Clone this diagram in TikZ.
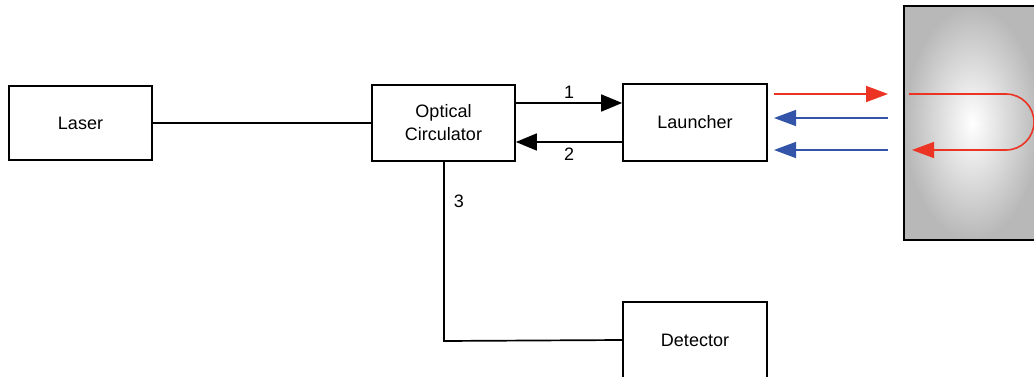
\documentclass[tikz,border=0pt]{standalone}
\usepackage{fontspec}
\setmainfont{Liberation Sans}
\usetikzlibrary{arrows.meta}
\definecolor{beamred}{RGB}{236,52,36}
\definecolor{beamblue}{RGB}{52,84,170}
\tikzset{
  blk/.style={draw=black, line width=1.7pt, fill=white, inner sep=0pt, font=\fontsize{18}{23}\selectfont, align=center},
  wire/.style={line width=1.7pt, black},
  bigtip/.style={-{Triangle[length=21pt,width=17pt]}},
  rtip/.style={line width=1.6pt, beamred, -{Triangle[length=22pt,width=16pt]}},
  btip/.style={line width=1.6pt, beamblue, -{Triangle[length=22pt,width=16pt]}},
  lbl/.style={font=\fontsize{18}{20}\selectfont, inner sep=0pt}
}
\begin{document}
\begin{tikzpicture}[x=1pt,y=-1pt]
\useasboundingbox (0,0) rectangle (1034,377);
\clip (0,0) rectangle (1034,377);
% target block
\shade[inner color=white, outer color=black!28] (904,6) rectangle (1040,240);
\draw[line width=1.7pt] (1040,6) -- (904,6) -- (904,240) -- (1040,240);
% blocks
\node[blk, minimum width=143pt, minimum height=74pt] (laser) at (80.5,123) {Laser};
\node[blk, minimum width=143pt, minimum height=76pt] (circ) at (443.5,123) {Optical\\Circulator};
\node[blk, minimum width=144pt, minimum height=77pt] (launch) at (695,122.5) {Launcher};
\node[blk, minimum width=144pt, minimum height=78pt, anchor=north] (det) at (695,301) {Detector};
% connectors
\draw[wire] (laser.east |- 0,123) -- (circ.west |- 0,123);
\draw[wire, bigtip] (circ.east |- 0,103) -- node[lbl, above=4pt] (n1) {1} (launch.west |- 0,103);
\draw[wire, bigtip] (launch.west |- 0,142) -- node[lbl, below=5pt] (n2) {2} (circ.east |- 0,142);
\coordinate (bend) at (444,341);
\draw[wire] (circ.south -| 444,0) -- (bend) -- (det.west |- 0,340);
\node[lbl] (n3) at (459,201) {3};
% beams
\coordinate (r1s) at (774,94);
\coordinate (r1e) at (888,94);
\draw[rtip] (r1s) -- (r1e);
\coordinate (b1s) at (888,118);
\coordinate (b1e) at (774,118);
\draw[btip] (b1s) -- (b1e);
\coordinate (b2s) at (888,150);
\coordinate (b2e) at (774,150);
\draw[btip] (b2s) -- (b2e);
\coordinate (u1) at (909,94);
\coordinate (u2) at (912,150);
\draw[rtip] (u1) -- (1006,94) arc[start angle=-90, end angle=90, radius=28] -- (u2);
\end{tikzpicture}
\end{document}
